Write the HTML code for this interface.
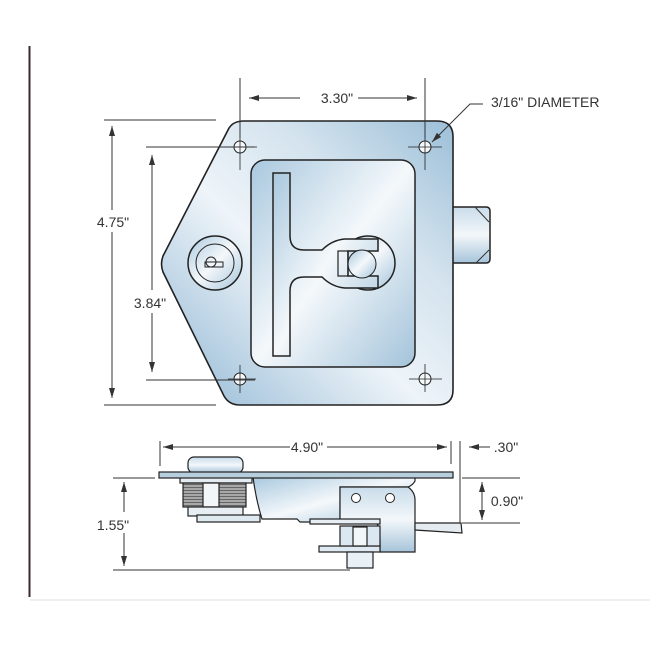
<!DOCTYPE html>
<html><head><meta charset="utf-8"><style>
html,body{margin:0;padding:0;background:#fff}
svg{display:block}
text{font-family:"Liberation Sans",sans-serif;fill:#333}
</style></head><body>
<svg width="650" height="650" viewBox="0 0 650 650" xmlns="http://www.w3.org/2000/svg">
<defs>
<linearGradient id="g" x1="0" y1="1" x2="1" y2="0">
<stop offset="0" stop-color="#8fb6d3"/><stop offset="0.45" stop-color="#eef4f9"/><stop offset="0.7" stop-color="#d4e3ee"/><stop offset="1" stop-color="#9cbfd8"/>
</linearGradient>
<linearGradient id="g2" x1="0" y1="0" x2="1" y2="1">
<stop offset="0" stop-color="#a9c8de"/><stop offset="0.5" stop-color="#f4f8fb"/><stop offset="1" stop-color="#a3c3da"/>
</linearGradient>
<linearGradient id="gv" x1="0" y1="0" x2="0" y2="1">
<stop offset="0" stop-color="#c9dcea"/><stop offset="0.5" stop-color="#f3f7fa"/><stop offset="1" stop-color="#a6c4da"/>
</linearGradient>
<pattern id="th" width="4" height="3" patternUnits="userSpaceOnUse"><rect width="4" height="3" fill="#a8a8a8"/><line x1="0" y1="1.5" x2="4" y2="1.5" stroke="#666" stroke-width="1"/></pattern>
<marker id="a" markerWidth="10" markerHeight="6" refX="10" refY="3" orient="auto-start-reverse" markerUnits="userSpaceOnUse"><path d="M0,0 L10,3 L0,6 z" fill="#333"/></marker>
</defs>
<rect width="650" height="650" fill="#fff"/>
<line x1="29.5" y1="46" x2="29.5" y2="597" stroke="#3a2a2a" stroke-width="2"/>
<line x1="30" y1="600" x2="650" y2="600" stroke="#eee" stroke-width="2"/>

<path d="M450,207 H486 Q490,207 490,211 V259 Q490,263 486,263 H450 Z" fill="url(#gv)" stroke="#222" stroke-width="1.5"/>
<path d="M475,207 L489,222 M476,263 L489,250" stroke="#333" stroke-width="1"/>
<path d="M244,121 H437 Q453,121 453,137 V390 Q453,405 437,405 H240 Q229,405 224,396 L163,272 Q160,264 163,256 L228,130 Q232,121 244,121 Z" fill="url(#g)" stroke="#222" stroke-width="1.6"/>
<rect x="251" y="160" width="164" height="207" rx="14" fill="url(#g2)" stroke="#222" stroke-width="1.5"/>
<g fill="#f6f9fb" stroke="#222" stroke-width="1">
<circle cx="240" cy="147" r="6"/><circle cx="425" cy="147" r="6"/><circle cx="240" cy="379" r="6"/><circle cx="425" cy="379" r="6"/>
</g>
<g stroke="#222" stroke-width="0.8">
<line x1="240" y1="137" x2="240" y2="170"/><line x1="228" y1="147" x2="257" y2="147"/>
<line x1="425" y1="137" x2="425" y2="170"/><line x1="408" y1="147" x2="442" y2="147"/>
<line x1="240" y1="365" x2="240" y2="393"/><line x1="228" y1="379" x2="256" y2="379"/>
<line x1="425" y1="364" x2="425" y2="392"/><line x1="409" y1="379" x2="442" y2="379"/>
</g>
<circle cx="368" cy="263" r="27" fill="url(#g2)" stroke="#222" stroke-width="1.5"/>
<path d="M290,173 V236 Q290,250 304,250 H322 Q332,240 345,239 H378 V251 H348 V276 H378 V288 H345 Q332,287 322,277 H304 Q290,277 290,291 V356 H273 V173 Z" fill="url(#g2)" stroke="#222" stroke-width="1.5"/>
<circle cx="362" cy="264" r="14" fill="url(#g2)" stroke="#222" stroke-width="1"/>
<rect x="338" y="251" width="10" height="25" fill="none" stroke="#222" stroke-width="1.2"/>
<circle cx="215" cy="263" r="27" fill="url(#g2)" stroke="#222" stroke-width="1.5"/>
<circle cx="215" cy="263" r="19" fill="none" stroke="#222" stroke-width="1"/>
<circle cx="211" cy="262" r="5" fill="none" stroke="#222" stroke-width="1"/>
<rect x="205" y="262" width="18" height="5" fill="none" stroke="#222" stroke-width="1"/>

<g stroke="#333" stroke-width="1" fill="none">
<line x1="240" y1="78" x2="240" y2="138"/><line x1="425" y1="78" x2="425" y2="138"/>
<line x1="300" y1="98" x2="249" y2="98" marker-end="url(#a)"/>
<line x1="358" y1="98" x2="417" y2="98" marker-end="url(#a)"/>
<line x1="104" y1="120" x2="216" y2="120"/><line x1="104" y1="405" x2="216" y2="405"/>
<line x1="112" y1="210" x2="112" y2="126" marker-end="url(#a)"/>
<line x1="112" y1="232" x2="112" y2="398" marker-end="url(#a)"/>
<line x1="146" y1="147" x2="255" y2="147"/><line x1="146" y1="380" x2="255" y2="380"/>
<line x1="152" y1="290" x2="152" y2="155" marker-end="url(#a)"/>
<line x1="152" y1="313" x2="152" y2="372" marker-end="url(#a)"/>
<path d="M483,104 H470 L432,142" marker-end="url(#a)"/>
</g>
<text x="337" y="103" font-size="14" text-anchor="middle">3.30"</text>
<text x="491" y="107" font-size="14">3/16" DIAMETER</text>
<text x="113" y="227" font-size="14" text-anchor="middle">4.75"</text>
<text x="150" y="308" font-size="14" text-anchor="middle">3.84"</text>

<g stroke="#222" stroke-width="1.2">
<rect x="188" y="457" width="55" height="16" rx="6" fill="url(#gv)"/>
<path d="M253,477 H415 V481 Q413,485 408,487 H340 V522 H300 L297,519 H262 Q256,500 253,477 Z" fill="url(#g2)"/>
<path d="M340,487 H408 Q415,492 415,500 V552 H380 V540 H378 V527 Q378,522 372,522 H340 Z" fill="url(#gv)"/>
<rect x="319" y="546" width="61" height="6" fill="#dfe9f1"/>
<rect x="347" y="552" width="26" height="16" fill="#e9f0f6"/>
<rect x="340" y="526" width="40" height="20" fill="#dce8f1"/>
<rect x="353" y="527" width="14" height="19" fill="#f1f6f9"/>
<rect x="310" y="519" width="70" height="5" fill="#e7eef4"/>
<path d="M415,523 H461 L462,533 L415,530 Z" fill="#e4ecf2"/>
<rect x="180" y="477" width="72" height="6" fill="#e4ecf2"/>
<rect x="183" y="483" width="63" height="24" fill="url(#th)"/>
<rect x="203" y="483" width="16" height="24" fill="#f2f6f9"/>
<rect x="188" y="507" width="55" height="9" fill="#e8eff4"/>
<rect x="197" y="515" width="63" height="7" fill="#dfe9f0"/>
<rect x="159" y="472" width="294" height="6" fill="#b7cedd"/>
</g>
<g fill="#fff" stroke="#222" stroke-width="1"><circle cx="356" cy="498" r="4.5"/><circle cx="390" cy="498" r="4.5"/></g>
<g stroke="#333" stroke-width="1" fill="none">
<line x1="160" y1="441" x2="160" y2="466"/><line x1="451" y1="441" x2="451" y2="464"/><line x1="460" y1="441" x2="460" y2="523"/>
<line x1="290" y1="447" x2="163" y2="447" marker-end="url(#a)"/>
<line x1="327" y1="447" x2="447" y2="447" marker-end="url(#a)"/>
<line x1="490" y1="447" x2="469" y2="447" marker-end="url(#a)"/>
<line x1="113" y1="478" x2="155" y2="478"/><line x1="113" y1="570" x2="350" y2="570"/>
<line x1="124" y1="512" x2="124" y2="482" marker-end="url(#a)"/>
<line x1="124" y1="533" x2="124" y2="566" marker-end="url(#a)"/>
<line x1="462" y1="478" x2="520" y2="478"/><line x1="462" y1="523" x2="520" y2="523"/>
<line x1="482" y1="490" x2="482" y2="482" marker-end="url(#a)"/>
<line x1="482" y1="510" x2="482" y2="520" marker-end="url(#a)"/>
<line x1="482" y1="490" x2="482" y2="510"/>
</g>
<text x="307" y="452" font-size="14" text-anchor="middle">4.90"</text>
<text x="506" y="452" font-size="14" text-anchor="middle">.30"</text>
<text x="113" y="530" font-size="14" text-anchor="middle">1.55"</text>
<text x="507" y="506" font-size="14" text-anchor="middle">0.90"</text>
</svg>
</body></html>
